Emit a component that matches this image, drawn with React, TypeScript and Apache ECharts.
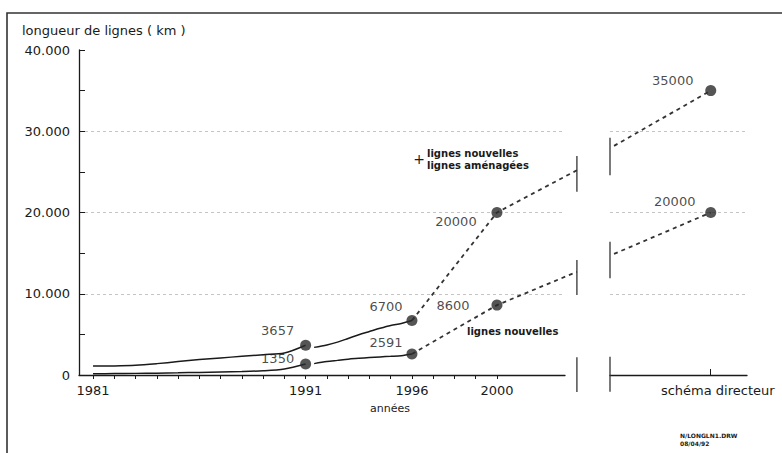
import React, { useEffect, useRef } from "react";
import * as echarts from "echarts";

// ---- axis ticks / labels ----
const yTickValues = [0, 10000, 20000, 30000, 40000];
const yTickLabels = ["0", "10.000", "20.000", "30.000", "40.000"];
const xTickYears = [1981, 1982, 1983, 1984, 1985, 1986, 1987, 1988, 1989, 1990, 1991, 1992, 1993, 1994, 1995, 1996, 1997, 1998, 1999, 2000];
const xLabelYears = [1981, 1991, 1996, 2000];
const panel2Label = "schéma directeur";
const panel2Tick = [1];

// ---- historical curves (km) ----
const histYearsA = [1981, 1982, 1983, 1984, 1985, 1986, 1987, 1988, 1989, 1990, 1991];
const totalA = [1100, 1120, 1200, 1400, 1650, 1900, 2100, 2300, 2500, 2700, 3657];
const newA = [150, 170, 200, 230, 270, 320, 370, 420, 520, 750, 1350];

const histYearsB = [1991.4, 1992, 1992.5, 1993, 1993.5, 1994, 1994.5, 1995, 1995.5, 1996];
const totalB = [3400, 3700, 4050, 4500, 4950, 5350, 5750, 6100, 6350, 6700];
const newB = [1400, 1650, 1800, 1950, 2050, 2150, 2230, 2300, 2380, 2591];

// ---- projections ----
const projYears = [1996, 2000, 2003.76];
const totalProj = [6700, 20000, 25200];
const newProj = [2591, 8600, 12700];

const sdX = [0.04, 1];
const totalSD = [28200, 35000];
const newSD = [14900, 20000];

// ---- marked points ----
const markedYears = [1991, 1996, 2000];
const markedTotal = [3657, 6700, 20000];
const markedNew = [1350, 2591, 8600];
const sdMarkedX = 1;
const sdMarkedTotal = 35000;
const sdMarkedNew = 20000;

// ---- axis break marks (data units) ----
const break1X = 2003.76;
const break1Ranges = [[22560, 26950], [9850, 14150], [-2100, 2200]];
const break2X = 0;
const break2Ranges = [[24600, 29200], [11900, 16400], [-2050, 2250]];

// label offsets (px) for point labels
const offTotal = [[-28, -15], [-26, -14], [-41, 9]];
const offNew = [[-28, -6], [-26, -11], [-44, 0]];
const offSdTotal = [-38, -10];
const offSdNew = [-36, -11];

const FONT = "DejaVu Sans";
const INK = "#1a1a1a";

// panel-1 scale (px per year) used to build the overlay grid with same scale
const X_MIN = 1980.34;
const X_MAX = 2003.2;
const G1_LEFT = 79;
const G1_WIDTH = 486;
const OV_WIDTH = 505;
const OV_HEIGHT = 343;
const G_HEIGHT = 325;

const zip = (xs: number[], ys: number[]) => xs.map((x, i) => [x, ys[i]]);

export default function App() {
  const ref = useRef<HTMLDivElement>(null);
  useEffect(() => {
    if (!ref.current) return;
    const chart = echarts.init(ref.current, undefined, { renderer: "svg" });

    const pxPerYear = G1_WIDTH / (X_MAX - X_MIN);
    const ovXMax = X_MIN + OV_WIDTH / pxPerYear;
    const ovYMin = -((OV_HEIGHT - G_HEIGHT) / G_HEIGHT) * 40000;

    const labelBase = {
      show: true,
      position: "inside",
      fontFamily: FONT,
      fontSize: 13,
      color: INK,
      formatter: (p: any) => String(p.value[1]),
    };

    const solid = (data: number[][]) => ({
      type: "line",
      xAxisIndex: 0,
      yAxisIndex: 0,
      data,
      symbol: "none",
      smooth: 0.3,
      silent: true,
      clip: false,
      lineStyle: { color: INK, width: 1.5 },
      z: 2,
    });
    const dashed = (data: number[][], gi: number) => ({
      type: "line",
      xAxisIndex: gi,
      yAxisIndex: gi,
      data,
      symbol: "none",
      silent: true,
      clip: false,
      lineStyle: { color: "#333", width: 1.8, type: [4, 4] },
      z: 2,
    });
    const breakSeries: any[] = [];
    break1Ranges.forEach((r) =>
      breakSeries.push({
        type: "line", xAxisIndex: 2, yAxisIndex: 2, symbol: "none", silent: true, clip: false,
        data: [[break1X, r[0]], [break1X, r[1]]],
        lineStyle: { color: "#333", width: 1.3 },
      })
    );
    break2Ranges.forEach((r) =>
      breakSeries.push({
        type: "line", xAxisIndex: 1, yAxisIndex: 1, symbol: "none", silent: true, clip: false,
        data: [[break2X, r[0]], [break2X, r[1]]],
        lineStyle: { color: "#333", width: 1.3 },
      })
    );

    const axisText = { fontFamily: FONT, fontSize: 13, color: INK };
    const gridSplit = { show: true, showMaxLine: false, lineStyle: { color: "#c4c4c4", width: 1, type: [3, 3] } };

    chart.setOption({
      animation: false,
      title: {
        text: "longueur de lignes ( km )",
        left: 22,
        top: 24,
        padding: 0,
        textStyle: { fontFamily: FONT, fontSize: 13, fontWeight: "normal", color: INK },
      },
      grid: [
        { left: G1_LEFT, top: 50, width: G1_WIDTH, height: G_HEIGHT },
        { left: 610, top: 50, width: 137, height: G_HEIGHT },
        { left: G1_LEFT, top: 50, width: OV_WIDTH, height: OV_HEIGHT },
      ],
      xAxis: [
        {
          type: "value", gridIndex: 0, min: X_MIN, max: X_MAX,
          axisLine: { show: true, lineStyle: { color: INK, width: 1.3 } },
          axisTick: { show: true, customValues: xTickYears, length: 4, lineStyle: { color: INK } },
          axisLabel: { customValues: xLabelYears, formatter: (v: number) => String(v), margin: 9, ...axisText },
          splitLine: { show: false },
        },
        {
          type: "value", gridIndex: 1, min: 0, max: 1.36,
          axisLine: { show: true, lineStyle: { color: INK, width: 1.3 } },
          axisTick: { show: true, inside: true, customValues: panel2Tick, length: 6, lineStyle: { color: INK } },
          axisLabel: { customValues: panel2Tick, formatter: () => panel2Label, margin: 9, padding: [0, 0, 0, 14], ...axisText },
          splitLine: { show: false },
        },
        {
          type: "value", gridIndex: 2, min: X_MIN, max: ovXMax, show: false,
        },
      ],
      yAxis: [
        {
          type: "value", gridIndex: 0, min: 0, max: 40000, interval: 10000,
          axisLine: { show: true, lineStyle: { color: INK, width: 1.3 } },
          axisTick: { show: true, inside: true, length: 6, lineStyle: { color: INK } },
          minorTick: { show: true, splitNumber: 2, length: 6, lineStyle: { color: INK } },
          axisLabel: {
            formatter: (v: number) => {
              const i = yTickValues.indexOf(v);
              return i >= 0 ? yTickLabels[i] : "";
            },
            margin: 9,
            ...axisText,
          },
          splitLine: gridSplit,
        },
        {
          type: "value", gridIndex: 1, min: 0, max: 40000, interval: 10000,
          axisLine: { show: false },
          axisTick: { show: false },
          axisLabel: { show: false },
          splitLine: gridSplit,
        },
        {
          type: "value", gridIndex: 2, min: ovYMin, max: 40000, show: false,
        },
      ],
      series: [
        solid(zip(histYearsA, totalA)),
        solid(zip(histYearsA, newA)),
        solid(zip(histYearsB, totalB)),
        solid(zip(histYearsB, newB)),
        dashed(zip(projYears, totalProj), 2),
        dashed(zip(projYears, newProj), 2),
        dashed(zip(sdX, totalSD), 1),
        dashed(zip(sdX, newSD), 1),
        ...breakSeries,
        {
          type: "scatter", xAxisIndex: 0, yAxisIndex: 0, symbolSize: 11, silent: true, z: 5,
          itemStyle: { color: "#2b2b2b" },
          label: labelBase,
          data: [
            ...markedYears.map((y, i) => ({ value: [y, markedTotal[i]], label: { offset: offTotal[i] } })),
            ...markedYears.map((y, i) => ({ value: [y, markedNew[i]], label: { offset: offNew[i] } })),
          ],
        },
        {
          type: "scatter", xAxisIndex: 1, yAxisIndex: 1, symbolSize: 11, silent: true, z: 5,
          itemStyle: { color: "#2b2b2b" },
          label: labelBase,
          data: [
            { value: [sdMarkedX, sdMarkedTotal], label: { offset: offSdTotal } },
            { value: [sdMarkedX, sdMarkedNew], label: { offset: offSdNew } },
          ],
        },
      ],
      graphic: [
        {
          type: "rect", shape: { x: 7, y: 13, width: 800, height: 500 },
          style: { fill: "none", stroke: "#333", lineWidth: 1.6 }, silent: true,
        },
        {
          type: "text", x: 390, y: 408,
          style: { text: "années", font: `11px "${FONT}"`, fill: INK, align: "center", verticalAlign: "middle" },
        },
        {
          type: "text", x: 419, y: 159,
          style: { text: "+", font: `14px "${FONT}"`, fill: INK, align: "center", verticalAlign: "middle" },
        },
        {
          type: "text", x: 427, y: 153,
          style: { text: "lignes nouvelles", font: `bold 10px "${FONT}"`, fill: INK, align: "left", verticalAlign: "middle" },
        },
        {
          type: "text", x: 427, y: 165,
          style: { text: "lignes aménagées", font: `bold 10px "${FONT}"`, fill: INK, align: "left", verticalAlign: "middle" },
        },
        {
          type: "text", x: 467, y: 331,
          style: { text: "lignes nouvelles", font: `bold 10px "${FONT}"`, fill: INK, align: "left", verticalAlign: "middle" },
        },
        {
          type: "text", x: 680, y: 435,
          style: { text: "N/LONGLN1.DRW", font: `bold 6px "${FONT}"`, fill: INK, align: "left", verticalAlign: "middle" },
        },
        {
          type: "text", x: 680, y: 443,
          style: { text: "08/04/92", font: `bold 6px "${FONT}"`, fill: INK, align: "left", verticalAlign: "middle" },
        },
      ],
    });
    return () => chart.dispose();
  }, []);

  return (
    <div
      ref={ref}
      style={{ position: "fixed", left: 0, top: 0, width: 782, height: 453, background: "#fff" }}
    />
  );
}
